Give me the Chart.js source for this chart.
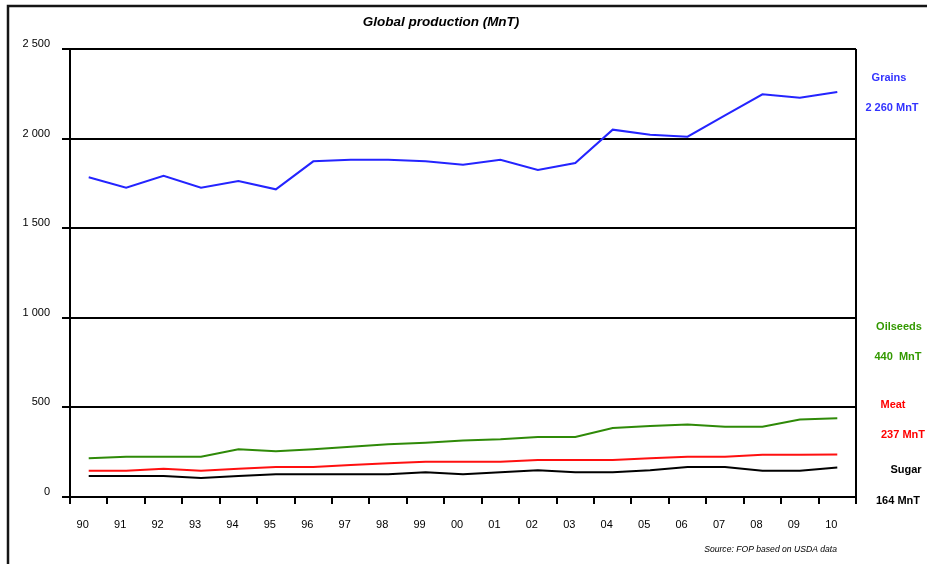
<!DOCTYPE html>
<html>
<head>
<meta charset="utf-8">
<script src="https://cdn.jsdelivr.net/npm/chart.js@4.4.1/dist/chart.umd.min.js"></script>
<style>
  html, body { margin: 0; padding: 0; background: #fff; }
  canvas { display: block; }
</style>
</head>
<body>
<canvas id="c" width="927" height="564"></canvas>
<script>
// Marketing years 1990–2010
const years = ['90','91','92','93','94','95','96','97','98','99','00','01','02','03','04','05','06','07','08','09','10'];

// Global production, million tonnes
const grains   = [1784,1726,1793,1726,1763,1717,1873,1882,1882,1873,1854,1882,1825,1864,2050,2022,2011,2130,2247,2228,2260];
const oilseeds = [216,225,225,225,266,255,266,281,294,303,315,322,335,335,385,396,405,392,392,433,440];
const meat     = [147,147,158,147,158,167,167,179,188,197,197,197,206,206,206,216,225,225,236,236,237];
const sugar    = [117,117,117,106,117,127,127,127,127,138,127,138,149,138,138,149,167,167,147,147,164];

const yTicks = [0, 500, 1000, 1500, 2000, 2500];

const seriesNames  = ['Grains', 'Oilseeds', 'Meat', 'Sugar'];
const seriesValues = [grains, oilseeds, meat, sugar];
const lineColors   = ['#2424ff', '#2f8a08', '#ff1010', '#000000'];
const textColors   = ['#3333ff', '#339900', '#ff0000', '#000000'];
const unitSep      = [' ', '  ', ' ', ' '];

const FONT = "'Liberation Sans', Arial, Helvetica, sans-serif";

function fmt(v) {
  return String(v).replace(/\B(?=(\d{3})+(?!\d))/g, ' ');
}

// Frame, title, right-hand series captions and source note
const decorations = {
  id: 'decorations',
  afterDraw(chart) {
    const ctx = chart.ctx;
    const area = chart.chartArea;
    ctx.save();

    // outer frame (top and left)
    ctx.strokeStyle = '#151515';
    ctx.lineWidth = 2.5;
    ctx.beginPath();
    ctx.moveTo(8, 564);
    ctx.lineTo(8, 6);
    ctx.lineTo(927, 6);
    ctx.stroke();

    // right edge of the plot
    ctx.strokeStyle = '#000';
    ctx.lineWidth = 2;
    ctx.beginPath();
    ctx.moveTo(area.right, area.top);
    ctx.lineTo(area.right, area.bottom);
    ctx.stroke();

    // title
    ctx.fillStyle = '#000';
    ctx.font = 'italic bold 13.5px ' + FONT;
    ctx.textAlign = 'center';
    ctx.textBaseline = 'middle';
    ctx.fillText('Global production (MnT)', 441, 22);

    // series captions with latest value
    const captionPos = [
      { x: 889, y: 78,  vx: 892, vy: 108 },
      { x: 899, y: 327, vx: 898, vy: 357 },
      { x: 893, y: 405, vx: 903, vy: 435 },
      { x: 906, y: 470, vx: 898, vy: 501 }
    ];
    ctx.font = 'bold 11px ' + FONT;
    seriesNames.forEach((name, i) => {
      const p = captionPos[i];
      const vals = seriesValues[i];
      ctx.fillStyle = textColors[i];
      ctx.fillText(name, p.x, p.y);
      ctx.fillText(fmt(vals[vals.length - 1]) + unitSep[i] + 'MnT', p.vx, p.vy);
    });

    // source note
    ctx.fillStyle = '#000';
    ctx.font = 'italic 8.6px ' + FONT;
    ctx.textAlign = 'right';
    ctx.fillText('Source: FOP based on USDA data', 837, 550);

    ctx.restore();
  }
};

new Chart(document.getElementById('c'), {
  type: 'line',
  data: {
    labels: years,
    datasets: seriesNames.map((name, i) => ({
      label: name,
      data: seriesValues[i],
      borderColor: lineColors[i],
      backgroundColor: lineColors[i],
      borderWidth: 2,
      pointRadius: 0,
      tension: 0,
      fill: false
    }))
  },
  options: {
    responsive: false,
    animation: false,
    devicePixelRatio: 1,
    layout: { padding: { top: 49, right: 71, left: 0, bottom: 0 } },
    plugins: {
      legend: { display: false },
      title: { display: false },
      tooltip: { enabled: false }
    },
    scales: {
      x: {
        offset: true,
        afterFit(scale) { scale.height = 67; },
        grid: {
          offset: true,
          drawOnChartArea: false,
          drawTicks: true,
          tickLength: 7,
          color: '#000',
          lineWidth: 2
        },
        border: { display: true, color: '#000', width: 2 },
        ticks: {
          color: '#000',
          font: { family: FONT, size: 11 },
          padding: 14,
          labelOffset: -6,
          maxRotation: 0,
          autoSkip: false
        }
      },
      y: {
        min: 0,
        max: 2500,
        afterFit(scale) { scale.width = 70; },
        afterBuildTicks(scale) { scale.ticks = yTicks.map(v => ({ value: v })); },
        grid: {
          color: '#000',
          lineWidth: 2,
          drawTicks: true,
          tickLength: 8
        },
        border: { display: true, color: '#000', width: 2 },
        ticks: {
          color: '#000',
          font: { family: FONT, size: 11 },
          padding: 12,
          labelOffset: -5,
          callback: (v) => fmt(v)
        }
      }
    }
  },
  plugins: [decorations]
});
</script>
</body>
</html>
